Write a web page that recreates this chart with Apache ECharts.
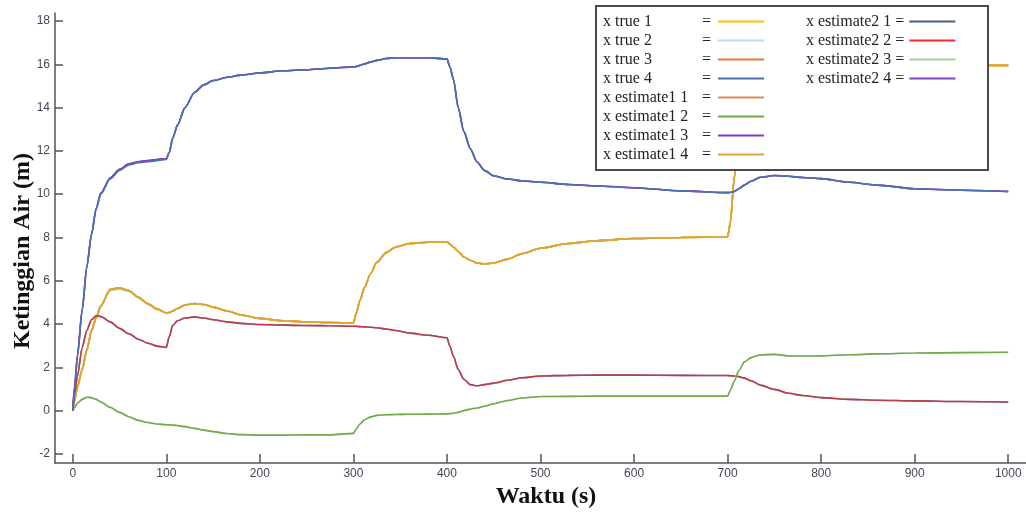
<!DOCTYPE html>
<html>
<head>
<meta charset="utf-8">
<script src="https://cdn.jsdelivr.net/npm/echarts@6/dist/echarts.min.js"></script>
<style>
html,body{margin:0;padding:0;background:#fff;}
#chart{width:1026px;height:513px;}
</style>
</head>
<body>
<div id="chart"></div>
<script>
// time samples (s)
const tS = [0,2,5,10,15,20,25,30,40,50,60,70,80,90,100,103,107,112,120,130,140,150,165,180,200,225,250,275,300,303,307,312,318,325,335,345,360,380,400,403,407,412,418,425,432,440,450,465,480,500,530,560,600,650,700,703,707,712,718,725,735,750,765,780,800,830,860,900,950,1000];

// top curve (~16 m)
const x4True = [0,1.1,2.5,4.6,6.6,8.1,9.3,10.0,10.7,11.1,11.35,11.45,11.5,11.55,11.6,11.9,12.6,13.2,14.0,14.7,15.05,15.25,15.4,15.5,15.6,15.7,15.75,15.82,15.88,15.9,15.95,16.02,16.1,16.18,16.27,16.3,16.3,16.3,16.25,15.9,15.3,14.0,12.9,12.1,11.5,11.1,10.85,10.7,10.62,10.55,10.45,10.38,10.3,10.15,10.07,10.08,10.12,10.25,10.42,10.6,10.78,10.86,10.83,10.77,10.72,10.55,10.42,10.25,10.18,10.12];
const x4Est = [0,1.12,2.55,4.65,6.65,8.15,9.35,10.05,10.75,11.15,11.4,11.5,11.55,11.6,11.64,11.92,12.6,13.2,14.0,14.7,15.05,15.25,15.4,15.5,15.6,15.7,15.75,15.82,15.88,15.9,15.95,16.02,16.1,16.18,16.27,16.3,16.3,16.3,16.25,15.9,15.3,14.0,12.9,12.1,11.5,11.1,10.85,10.7,10.62,10.55,10.45,10.38,10.3,10.15,10.07,10.08,10.12,10.25,10.42,10.6,10.78,10.86,10.83,10.77,10.72,10.55,10.42,10.25,10.18,10.12];

// orange curve
const x1True = [0,0.5,1.1,1.9,2.8,3.7,4.3,4.85,5.6,5.67,5.55,5.25,4.95,4.7,4.52,4.53,4.6,4.72,4.88,4.95,4.9,4.78,4.6,4.42,4.26,4.15,4.1,4.07,4.05,4.5,5.1,5.7,6.3,6.85,7.3,7.55,7.72,7.78,7.8,7.7,7.55,7.35,7.1,6.95,6.82,6.78,6.82,7.0,7.25,7.5,7.72,7.85,7.95,8.0,8.02,8.7,10.7,12.8,14.3,15.2,15.7,15.85,15.9,15.9,15.9,15.92,15.93,15.94,15.95,15.95];
const x1Est = [0,0.45,1.05,1.85,2.75,3.64,4.25,4.8,5.55,5.62,5.5,5.21,4.92,4.67,4.5,4.52,4.6,4.72,4.88,4.95,4.9,4.78,4.6,4.42,4.26,4.15,4.1,4.07,4.05,4.5,5.1,5.7,6.3,6.85,7.3,7.55,7.72,7.78,7.8,7.7,7.55,7.35,7.1,6.95,6.82,6.78,6.82,7.0,7.25,7.5,7.72,7.85,7.95,8.0,8.02,8.7,10.7,12.8,14.3,15.2,15.7,15.85,15.9,15.9,15.9,15.92,15.93,15.94,15.95,15.95];

// dark red curve
const x3 = [0,0.8,1.6,2.9,3.7,4.2,4.38,4.35,4.1,3.8,3.55,3.3,3.12,2.98,2.92,3.4,3.95,4.15,4.28,4.33,4.28,4.2,4.1,4.03,3.98,3.95,3.93,3.92,3.9,3.9,3.88,3.87,3.85,3.83,3.77,3.7,3.58,3.48,3.37,3.0,2.5,1.9,1.45,1.2,1.15,1.2,1.27,1.4,1.52,1.6,1.63,1.64,1.64,1.63,1.62,1.61,1.6,1.57,1.5,1.38,1.18,0.98,0.8,0.7,0.6,0.52,0.48,0.45,0.42,0.4];

// green curve
const x2 = [0,0.15,0.35,0.52,0.62,0.6,0.52,0.4,0.15,-0.08,-0.28,-0.45,-0.55,-0.62,-0.65,-0.66,-0.67,-0.69,-0.74,-0.82,-0.9,-0.97,-1.06,-1.11,-1.13,-1.13,-1.12,-1.12,-1.05,-0.85,-0.62,-0.42,-0.3,-0.22,-0.19,-0.18,-0.17,-0.16,-0.15,-0.14,-0.12,-0.08,0.0,0.07,0.12,0.2,0.32,0.47,0.58,0.65,0.66,0.67,0.67,0.67,0.67,0.95,1.35,1.85,2.25,2.45,2.57,2.6,2.53,2.52,2.53,2.58,2.62,2.66,2.68,2.7];

const xTicks = [0,100,200,300,400,500,600,700,800,900,1000];
const yTicks = [-2,0,2,4,6,8,10,12,14,16,18];

const legendCol1 = ['x true 1','x true 2','x true 3','x true 4','x estimate1 1','x estimate1 2','x estimate1 3','x estimate1 4'];
const legendCol2 = ['x estimate2 1','x estimate2 2','x estimate2 3','x estimate2 4'];

const colors = {
  'x true 1':'#FFC000','x true 2':'#BDD7EE','x true 3':'#E07B39','x true 4':'#4A72B0',
  'x estimate1 1':'#E08A55','x estimate1 2':'#70AD47','x estimate1 3':'#7B3FC4','x estimate1 4':'#D9A53A',
  'x estimate2 1':'#44607F','x estimate2 2':'#FF2A2A','x estimate2 3':'#A9D18E','x estimate2 4':'#8040C0'
};

// draw order (bottom to top) and which curve each series follows
const seriesPlan = [
  ['x estimate2 3', x1Est], ['x true 3', x1True], ['x estimate1 1', x1True], ['x true 1', x1True], ['x estimate1 4', x1True],
  ['x estimate2 1', x3], ['x estimate2 2', x3],
  ['x true 2', x2], ['x estimate1 2', x2],
  ['x estimate1 3', x4Est], ['x estimate2 4', x4Est], ['x true 4', x4True]
];

function pairs(vals){ return tS.map((t,i)=>[t, vals[i]]); }

const series = seriesPlan.map(([name, vals]) => ({
  name, type:'line', data: pairs(vals), showSymbol:false, symbol:'none',
  smooth:0.25, smoothMonotone:'x',
  lineStyle:{ width:1.6, color: colors[name], opacity: name==='x estimate2 2' ? 0.65 : 1 },
  itemStyle:{ color: colors[name], opacity:1 },
  emphasis:{ disabled:true }
}));

const serif = 'Liberation Serif, Times New Roman, serif';
const sans = 'Liberation Sans, Arial, sans-serif';

const chart = echarts.init(document.getElementById('chart'), null, {renderer:'canvas'});
chart.setOption({
  animation:false,
  backgroundColor:'#fff',
  grid:{ left:55, right:0, top:13, bottom:50, containLabel:false },
  xAxis:{
    type:'value', min:-19, max:1019,
    axisLine:{ show:true, onZero:false, lineStyle:{ color:'#555', width:1.5 } },
    axisTick:{ show:true, inside:true, length:9, customValues:xTicks, lineStyle:{ color:'#555', width:1.5 } },
    axisLabel:{ customValues:xTicks, formatter: v => String(v), margin:5, fontFamily:sans, fontSize:12, color:'#45455a' },
    splitLine:{ show:false }
  },
  yAxis:{
    type:'value', min:-2.42, max:18.37,
    axisLine:{ show:true, onZero:false, lineStyle:{ color:'#555', width:1.5 } },
    axisTick:{ show:true, inside:true, length:8, customValues:yTicks, lineStyle:{ color:'#555', width:1.5 } },
    axisLabel:{ customValues:yTicks, formatter: v => String(v), margin:5, fontFamily:sans, fontSize:12, color:'#45455a' },
    splitLine:{ show:false }
  },
  legend:[
    {
      data: legendCol1, orient:'vertical', left:603, top:12, padding:0, itemGap:0,
      itemWidth:46, itemHeight:2, icon:'rect', align:'right', selectedMode:false, z:20,
      formatter: n => '{n|' + n + '}{e|=}',
      textStyle:{ fontFamily:serif, fontSize:16, color:'#222', lineHeight:19,
        rich:{ n:{ width:99, align:'left', fontFamily:serif, fontSize:16, color:'#222', lineHeight:19 },
               e:{ width:11, align:'left', fontFamily:serif, fontSize:16, color:'#222', lineHeight:19 } } }
    },
    {
      data: legendCol2, orient:'vertical', left:806, top:12, padding:0, itemGap:0,
      itemWidth:46, itemHeight:2, icon:'rect', align:'right', selectedMode:false, z:20,
      formatter: n => n + ' =',
      textStyle:{ fontFamily:serif, fontSize:16, color:'#222', lineHeight:19 }
    }
  ],
  graphic:[
    { type:'rect', z:10, zlevel:0, shape:{ x:596, y:6, width:392, height:164 },
      style:{ fill:'#fff', stroke:'#4a4a4a', lineWidth:2 } },
    { type:'text', x:546, y:497, z:10,
      style:{ text:'Waktu (s)', font:'bold 24px ' + serif, fill:'#111', textAlign:'center', textVerticalAlign:'middle' } },
    { type:'text', x:23, y:251, rotation:Math.PI/2, z:10,
      style:{ text:'Ketinggian Air (m)', font:'bold 24px ' + serif, fill:'#111', textAlign:'center', textVerticalAlign:'middle' } }
  ],
  series
});
</script>
</body>
</html>
